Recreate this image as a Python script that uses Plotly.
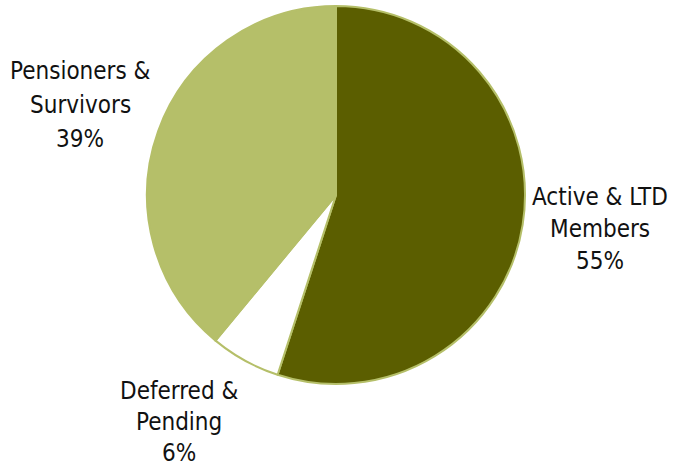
import plotly.graph_objects as go

# Membership split
labels = ["Active & LTD Members", "Deferred & Pending", "Pensioners & Survivors"]
label_lines = [["Active & LTD", "Members"], ["Deferred &", "Pending"], ["Pensioners &", "Survivors"]]
values = [55, 6, 39]
colors = ["#5B5E00", "#FFFFFF", "#B5BF69"]

W, H = 676, 474
cx, cy, r = 336, 195, 189  # pie centre and radius in pixels

fig = go.Figure(
    go.Pie(
        labels=labels,
        values=values,
        sort=False,
        direction="clockwise",
        rotation=0,
        marker=dict(colors=colors, line=dict(color="#B5BF69", width=2)),
        textinfo="none",
        hoverinfo="label+percent",
        showlegend=False,
        domain=dict(x=[(cx - r) / W, (cx + r) / W], y=[1 - (cy + r) / H, 1 - (cy - r) / H]),
    )
)

# Centre of the first text line (pixels) for each slice label, and line pitch
label_pos = [(600, 197), (179, 391), (80, 71)]
pitch = [32, 31, 34]
font = dict(family="Liberation Sans Narrow, Arial Narrow, DejaVu Sans Condensed", size=24, color="#111111")
for lines, val, (px, py), dy in zip(label_lines, values, label_pos, pitch):
    for i, txt in enumerate(lines + [f"{val}%"]):
        fig.add_annotation(
            x=px / W, y=1 - (py + i * dy) / H, xref="paper", yref="paper",
            text=txt, showarrow=False, font=font,
            xanchor="center", yanchor="middle",
        )

fig.update_layout(
    width=W, height=H,
    margin=dict(l=0, r=0, t=0, b=0),
    paper_bgcolor="white", plot_bgcolor="white",
)

fig.write_html("out.html")
